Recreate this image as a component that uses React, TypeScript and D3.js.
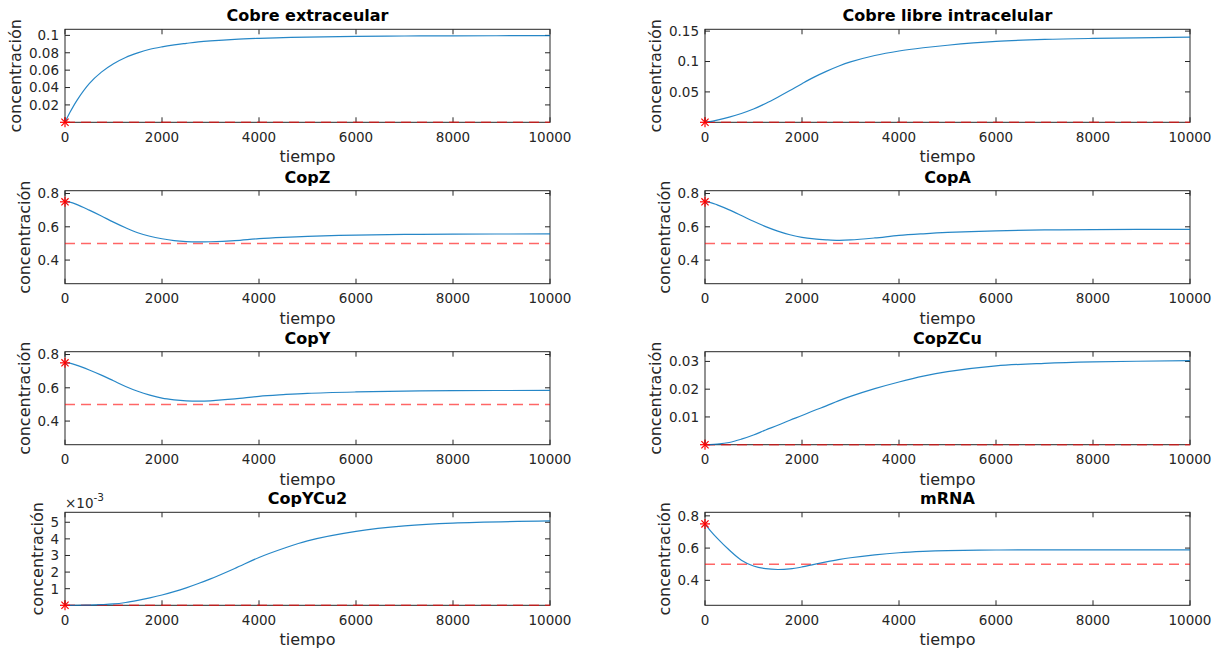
import React from 'react';
import * as d3 from 'd3';

const tiempo = [0, 100, 250, 500, 750, 1000, 1250, 1500, 1750, 2000, 2250, 2500, 2750, 3000, 3500, 4000, 4500, 5000, 6000, 7000, 8000, 10000];
const cobreExtracelular = [0, 0.0112, 0.0256, 0.0445, 0.0577, 0.0674, 0.0746, 0.0798, 0.084, 0.0868, 0.089, 0.0908, 0.0925, 0.0937, 0.0955, 0.0966, 0.0974, 0.098, 0.0988, 0.0993, 0.0995, 0.0997];
const cobreLibre = [0, 0.001, 0.0035, 0.0085, 0.0145, 0.0218, 0.031, 0.0413, 0.0522, 0.0635, 0.0743, 0.0838, 0.0922, 0.0993, 0.1099, 0.1173, 0.1226, 0.1268, 0.133, 0.1363, 0.138, 0.14];
const copZ = [0.75, 0.748, 0.733, 0.7, 0.665, 0.628, 0.594, 0.564, 0.543, 0.528, 0.517, 0.511, 0.509, 0.51, 0.517, 0.529, 0.537, 0.543, 0.55, 0.554, 0.556, 0.557];
const copA = [0.75, 0.747, 0.732, 0.702, 0.668, 0.633, 0.601, 0.574, 0.552, 0.536, 0.527, 0.522, 0.519, 0.521, 0.533, 0.548, 0.558, 0.566, 0.576, 0.581, 0.583, 0.585];
const copY = [0.75, 0.748, 0.735, 0.707, 0.676, 0.642, 0.608, 0.579, 0.556, 0.538, 0.528, 0.522, 0.52, 0.522, 0.533, 0.549, 0.559, 0.567, 0.575, 0.58, 0.583, 0.584];
const copZCu = [0, 0.00003, 0.0002, 0.0008, 0.002, 0.0035, 0.0053, 0.007, 0.0088, 0.0105, 0.0123, 0.014, 0.0158, 0.0174, 0.0202, 0.0226, 0.0247, 0.0263, 0.0284, 0.0293, 0.0298, 0.0303];
const copYCu2 = [0, 0, 0.000003, 0.000015, 0.00004, 0.00008, 0.00017, 0.0003, 0.00045, 0.00062, 0.00082, 0.00105, 0.00131, 0.00159, 0.00222, 0.00288, 0.00342, 0.00388, 0.00445, 0.00478, 0.00495, 0.00508];
const mRNA = [0.75, 0.712, 0.662, 0.588, 0.525, 0.489, 0.472, 0.467, 0.471, 0.483, 0.499, 0.514, 0.528, 0.54, 0.558, 0.571, 0.579, 0.584, 0.588, 0.589, 0.589, 0.589];

const titles = ['Cobre extraceular', 'Cobre libre intracelular', 'CopZ', 'CopA', 'CopY', 'CopZCu', 'CopYCu2', 'mRNA'];
const seriesList = [cobreExtracelular, cobreLibre, copZ, copA, copY, copZCu, copYCu2, mRNA];
const referenceLevels = [0, 0, 0.5, 0.5, 0.5, 0, 0, 0.5];
const initialValues = [0, 0, 0.75, 0.75, 0.75, 0, 0, 0.75];
const yDomains: [number, number][] = [
  [0, 0.107], [0, 0.153], [0.258, 0.817], [0.258, 0.817],
  [0.258, 0.817], [0, 0.0335], [0, 0.0056], [0.245, 0.822],
];
const yTickValues = [
  [0.02, 0.04, 0.06, 0.08, 0.1],
  [0.05, 0.1, 0.15],
  [0.4, 0.6, 0.8],
  [0.4, 0.6, 0.8],
  [0.4, 0.6, 0.8],
  [0.01, 0.02, 0.03],
  [0.001, 0.002, 0.003, 0.004, 0.005],
  [0.4, 0.6, 0.8],
];
const yTickLabels = [
  ['0.02', '0.04', '0.06', '0.08', '0.1'],
  ['0.05', '0.1', '0.15'],
  ['0.4', '0.6', '0.8'],
  ['0.4', '0.6', '0.8'],
  ['0.4', '0.6', '0.8'],
  ['0.01', '0.02', '0.03'],
  ['1', '2', '3', '4', '5'],
  ['0.4', '0.6', '0.8'],
];
const exponentLabels = ['', '', '', '', '', '', '-3', ''];
const xTicks = [0, 2000, 4000, 6000, 8000, 10000];
const xLabel = 'tiempo';
const yLabel = 'concentración';

const FONT = 'DejaVu Sans, sans-serif';
const AX = '#262626';
const colLeft = [65, 705];
const rowTop = [29.3, 190.7, 351.7, 512.3];
const PW = 485;
const PH = 93;
const TICK_FS = 13.5;
const LABEL_FS = 16;
const TL = 5;

function textWidth(s: string) {
  let w = 0;
  for (const ch of s) w += ch === '.' ? 0.318 : 0.636;
  return w * TICK_FS;
}

function Star({ x, y }: { x: number; y: number }) {
  const r = 5;
  const d = r * 0.72;
  return (
    <g stroke="#ff0000" strokeWidth={1.2}>
      <line x1={x - r} y1={y} x2={x + r} y2={y} />
      <line x1={x} y1={y - r} x2={x} y2={y + r} />
      <line x1={x - d} y1={y - d} x2={x + d} y2={y + d} />
      <line x1={x - d} y1={y + d} x2={x + d} y2={y - d} />
    </g>
  );
}

function Panel({ i }: { i: number }) {
  const col = i % 2;
  const row = Math.floor(i / 2);
  const left = colLeft[col];
  const top = rowTop[row];
  const x = d3.scaleLinear().domain([0, 10000]).range([left, left + PW]);
  const y = d3.scaleLinear().domain(yDomains[i]).range([top + PH, top]);
  const data = tiempo.map((t, k) => [t, seriesList[i][k]] as [number, number]);
  const line = d3.line<[number, number]>().x(d => x(d[0])).y(d => y(d[1])).curve(d3.curveCatmullRom.alpha(0.5));
  const bottom = top + PH;
  const maxW = Math.max(...yTickLabels[i].map(textWidth));
  const yLabelX = left - 6 - maxW - 7.5;
  return (
    <g>
      <rect x={left} y={top} width={PW} height={PH} fill="#fff" stroke={AX} strokeWidth={1} />
      {xTicks.map(t => (
        <g key={t}>
          <line x1={x(t)} x2={x(t)} y1={bottom} y2={bottom - TL} stroke={AX} />
          <line x1={x(t)} x2={x(t)} y1={top} y2={top + TL} stroke={AX} />
          <text x={x(t)} y={bottom + 19.4} textAnchor="middle" fontFamily={FONT} fontSize={TICK_FS} fill={AX}>{t}</text>
        </g>
      ))}
      {yTickValues[i].map((v, k) => (
        <g key={v}>
          <line x1={left} x2={left + TL} y1={y(v)} y2={y(v)} stroke={AX} />
          <line x1={left + PW} x2={left + PW - TL} y1={y(v)} y2={y(v)} stroke={AX} />
          <text x={left - 6} y={y(v)} dy="0.36em" textAnchor="end" fontFamily={FONT} fontSize={TICK_FS} fill={AX}>{yTickLabels[i][k]}</text>
        </g>
      ))}
      <line x1={x(0)} x2={x(10000)} y1={y(referenceLevels[i])} y2={y(referenceLevels[i])}
        stroke="#ff0000" strokeWidth={1.5} strokeOpacity={0.6} strokeDasharray="10 6" />
      <path d={line(data) || ''} fill="none" stroke="#0072BD" strokeWidth={1.2} strokeOpacity={0.85} />
      <Star x={x(0)} y={y(initialValues[i])} />
      {exponentLabels[i] && (
        <text x={left} y={top - 4.5} fontFamily={FONT} fontSize={TICK_FS} fill={AX}>
          ×10<tspan fontSize={10.5} dy={-6.5}>{exponentLabels[i]}</tspan>
        </text>
      )}
      <text x={left + PW / 2} y={top - 8} textAnchor="middle" fontFamily={FONT} fontSize={LABEL_FS} fontWeight="bold" fill="#000">{titles[i]}</text>
      <text x={left + PW / 2} y={bottom + 40} textAnchor="middle" fontFamily={FONT} fontSize={LABEL_FS} fill={AX}>{xLabel}</text>
      <text transform={`translate(${yLabelX},${top + PH / 2}) rotate(-90)`} textAnchor="middle" fontFamily={FONT} fontSize={LABEL_FS} fill={AX}>{yLabel}</text>
    </g>
  );
}

export default function App() {
  return (
    <svg width={1223} height={652} style={{ position: 'absolute', left: 0, top: 0, background: '#fff' }}>
      <rect width={1223} height={652} fill="#fff" />
      {titles.map((_, i) => <Panel key={i} i={i} />)}
    </svg>
  );
}
